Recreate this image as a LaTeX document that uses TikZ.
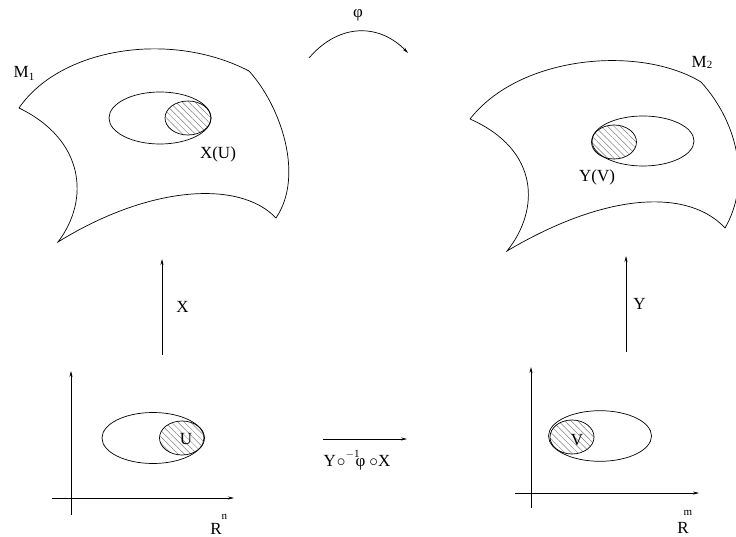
\documentclass[tikz,border=0pt]{standalone}
\usepackage{fontspec}
\setmainfont{Liberation Serif}
\usetikzlibrary{arrows.meta,patterns.meta}

\newcommand{\supsz}{\fontsize{11}{12}\selectfont}
\tikzset{
    hatched/.style={draw, pattern={Lines[angle=-45,distance=4.5pt,line width=0.5pt]}, pattern color=gray},
    map/.style={-{Stealth[length=6pt,width=3pt]}},
    lbl/.style={font=\fontsize{17}{20}\selectfont, inner sep=0pt},
}

\begin{document}
\begin{tikzpicture}[x=1pt, y=-1pt, line width=0.7pt]
    \useasboundingbox (0,0) rectangle (736,537);

    % Flaeche M1 mit Karte X(U)
    \draw (19,108) .. controls (60,48) and (170,30) .. (249,71)
        .. controls (280,105) and (305,175) .. (276,218)
        .. controls (240,180) and (150,185) .. (58,242)
        .. controls (90,200) and (85,140) .. (19,108);
    \draw (160,118) ellipse [x radius=51, y radius=26];
    \draw[hatched] (188,118) ellipse [x radius=23, y radius=17];
    \node[lbl] (m1) at (24,73) {M\raisebox{-3pt}{\supsz 1}};
    \node[lbl] (xu) at (218,154) {X(U)};

    % Flaeche M2 mit Karte Y(V)
    \draw (470,119) .. controls (520,55) and (640,45) .. (701,82)
        .. controls (740,125) and (750,185) .. (725,228)
        .. controls (690,190) and (610,190) .. (507,251)
        .. controls (540,210) and (540,150) .. (470,119);
    \draw (643,141) ellipse [x radius=51, y radius=25];
    \draw[hatched] (614,142) ellipse [x radius=22.5, y radius=17];
    \node[lbl] (m2) at (702,62) {M\raisebox{-1pt}{\supsz 2}};
    \node[lbl] (yv) at (597,177) {Y(V)};

    \coordinate (phi-from) at (309,58);
    \coordinate (phi-to) at (408,53);
    \draw[map] (phi-from) .. controls (340,22) and (380,24) .. (phi-to);
    \node[lbl] (phi) at (358,15) {φ};

    \coordinate (x-from) at (162,355);
    \coordinate (x-to) at (162,259);
    \draw[map] (x-from) -- (x-to) node[lbl, midway, right=14pt] {X};
    \coordinate (y-from) at (626,352);
    \coordinate (y-to) at (626,256);
    \draw[map] (y-from) -- (y-to) node[lbl, midway, right=7pt] {Y};

    % Ebene R^n
    \draw[map] (71,515) -- (71,371);
    \draw[map] (52,498) -- (234,498);
    \draw (153,438) ellipse [x radius=51, y radius=25.5];
    \draw[hatched] (182,438) ellipse [x radius=22.5, y radius=17];
    \node[lbl] (u) at (186,439) {U};
    \node[lbl, anchor=base west] (rn) at (210,534) {R\kern0pt\raisebox{15pt}{\supsz n}};

    % Ebene R^m
    \draw[map] (531,508) -- (531,367);
    \draw[map] (515,493) -- (699,493);
    \draw (600,436) ellipse [x radius=51.5, y radius=25.3];
    \draw[hatched] (572,437) ellipse [x radius=22, y radius=17];
    \node[lbl] (v) at (577,440) {V};
    \node[lbl, anchor=base west] (rm) at (677,533) {R\kern-5pt\raisebox{18pt}{\supsz m}};

    \coordinate (comp-from) at (323,439);
    \coordinate (comp-to) at (407,439);
    \draw[map] (comp-from) -- (comp-to);
    \node[lbl, anchor=base] (comp) at (357,466)
        {Y\kern1pt$\circ$\raisebox{9pt}{\supsz $-$1}\kern-4pt φ\kern4pt$\circ$X};
\end{tikzpicture}
\end{document}
